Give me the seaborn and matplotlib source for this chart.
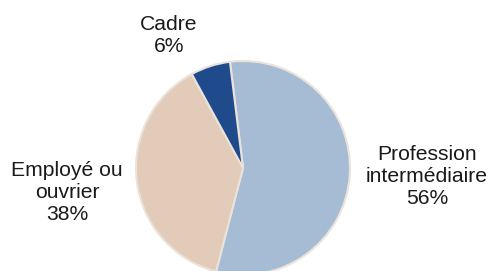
import matplotlib
matplotlib.use("Agg")
import matplotlib.pyplot as plt
import seaborn as sns

sns.set_theme(style="white")
plt.rcParams['font.family'] = ['Liberation Sans', 'DejaVu Sans']

categories = ["Profession\nintermédiaire", "Employé ou\nouvrier", "Cadre"]
values = [56, 38, 6]
colors = ["#a6bcd4", "#e3cbb9", "#1f4a8c"]
label_pos = [(427, 177), (67, 193), (169, 36)]  # pixel positions of labels

W, H = 490, 271
cx, cy, R = 243, 168, 107

fig = plt.figure(figsize=(W / 100, H / 100), dpi=100)
ax = fig.add_axes([0, 0, 1, 1])
ax.pie(values, colors=colors, startangle=97, counterclock=False,
       radius=1, center=(0, 0),
       wedgeprops=dict(edgecolor="#ebe3da", linewidth=1.5))
ax.set_aspect("auto")
ax.set_xlim(-cx / R, (W - cx) / R)
ax.set_ylim(-(H - cy) / R, cy / R)
ax.axis("off")

for cat, v, (px, py) in zip(categories, values, label_pos):
    x = (px - cx) / R
    y = (cy - py) / R
    ax.text(x, y, f"{cat}\n{v}%", ha="center", va="center",
            fontsize=15.2, linespacing=1.2, color="#1a1a1a")

fig.savefig("out.png", dpi=100)
